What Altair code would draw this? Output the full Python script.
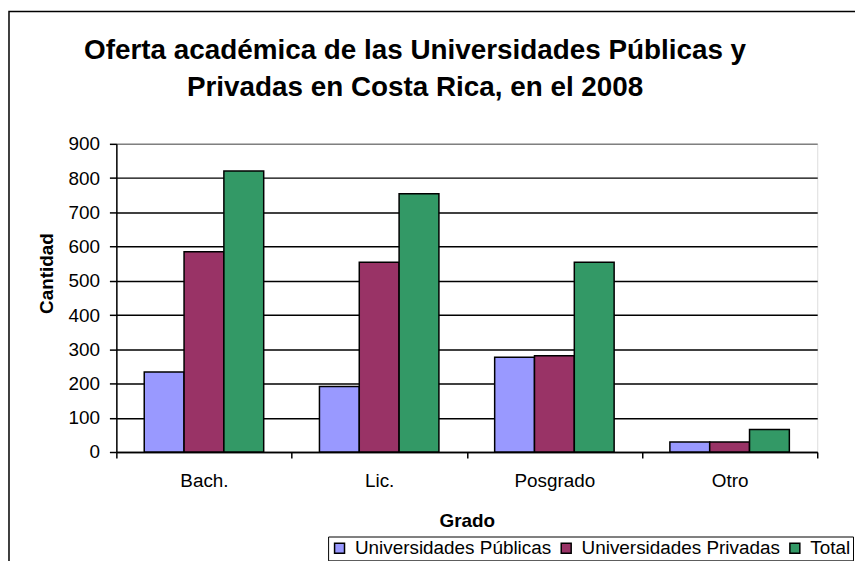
import altair as alt
import pandas as pd

categories = ["Bach.", "Lic.", "Posgrado", "Otro"]
series = ["Universidades Públicas", "Universidades Privadas", "Total"]
publicas = [234, 191, 277, 29]
privadas = [585, 554, 281, 29]
total = [821, 754, 554, 66]
colors = ["#9999FF", "#993366", "#339966"]
y_ticks = [0, 100, 200, 300, 400, 500, 600, 700, 800, 900]
title_lines = ["Oferta académica de las Universidades Públicas y",
               "Privadas en Costa Rica, en el 2008"]

rows = []
for i, c in enumerate(categories):
    for s, vals in zip(series, [publicas, privadas, total]):
        rows.append({"Grado": c, "Serie": s, "Cantidad": vals[i]})
df = pd.DataFrame(rows)

FONT = "Liberation Sans"

frame = alt.Chart(alt.Data(values=[{"a": 1}])).mark_rect(
    fillOpacity=0, stroke="black", strokeWidth=1.5
).encode(
    x=alt.value(-108), x2=alt.value(800), y=alt.value(-133), y2=alt.value(520)
)

bars = alt.Chart(df).mark_bar(stroke="black", strokeWidth=1.5, opacity=1).encode(
    x=alt.X(
        "Grado:N", sort=categories,
        scale=alt.Scale(paddingInner=0, paddingOuter=0),
        axis=alt.Axis(
            title="Grado", labelAngle=0, tickBand="extent", tickSize=6,
            tickColor="black", tickWidth=1.5, domainColor="black", domainWidth=1.5,
            labelPadding=14, labelFontSize=19, labelFont=FONT, labelColor="black",
            titleFont=FONT, titleFontSize=19, titleFontWeight="bold", titleColor="black",
            titleY=75, titleBaseline="alphabetic", grid=False,
        ),
    ),
    xOffset=alt.XOffset(
        "Serie:N", sort=series,
        scale=alt.Scale(domain=series, paddingInner=0, paddingOuter=0.7),
    ),
    y=alt.Y(
        "Cantidad:Q",
        scale=alt.Scale(domain=[0, 900], nice=False),
        axis=alt.Axis(
            values=y_ticks, title="Cantidad", tickSize=7, tickColor="black",
            tickWidth=1.5, domainColor="black", domainWidth=1.5, labelPadding=10,
            labelFontSize=19, labelFont=FONT, labelColor="black",
            titleFont=FONT, titleFontSize=19, titleFontWeight="bold", titleColor="black",
            titleX=-64, titleY=130, titleAngle=270, titleBaseline="alphabetic",
            grid=True, gridWidth=1.5,
            gridColor={"condition": {"test": "datum.value === 900", "value": "#808080"},
                       "value": "black"},
        ),
    ),
    color=alt.Color(
        "Serie:N", sort=series,
        scale=alt.Scale(domain=series, range=colors),
        legend=alt.Legend(
            orient="none", legendX=213, legendY=395, direction="horizontal",
            title=None, symbolType="square", symbolSize=100,
            symbolStrokeColor="black", symbolStrokeWidth=1.5,
            labelFontSize=19, labelFont=FONT, labelColor="black", labelLimit=400,
            labelOffset=6, columnPadding=5, strokeColor="black", padding=2,
        ),
    ),
)

chart = alt.layer(frame, bars).properties(
    width=705,
    height=310,
    padding={"left": 109, "top": 135, "right": 38, "bottom": 108},
    autosize=alt.AutoSizeParams(type="none"),
    title=alt.TitleParams(
        text=title_lines, fontSize=28, font=FONT, fontWeight="bold", color="black",
        anchor="middle", lineHeight=38, dx=-52, offset=0, dy=92,
    ),
).configure_view(
    fill="#C0C0C0", stroke="#808080", strokeWidth=1.5
).configure(background="white")

chart.save("out.html", embed_options={"renderer": "svg", "actions": False})
